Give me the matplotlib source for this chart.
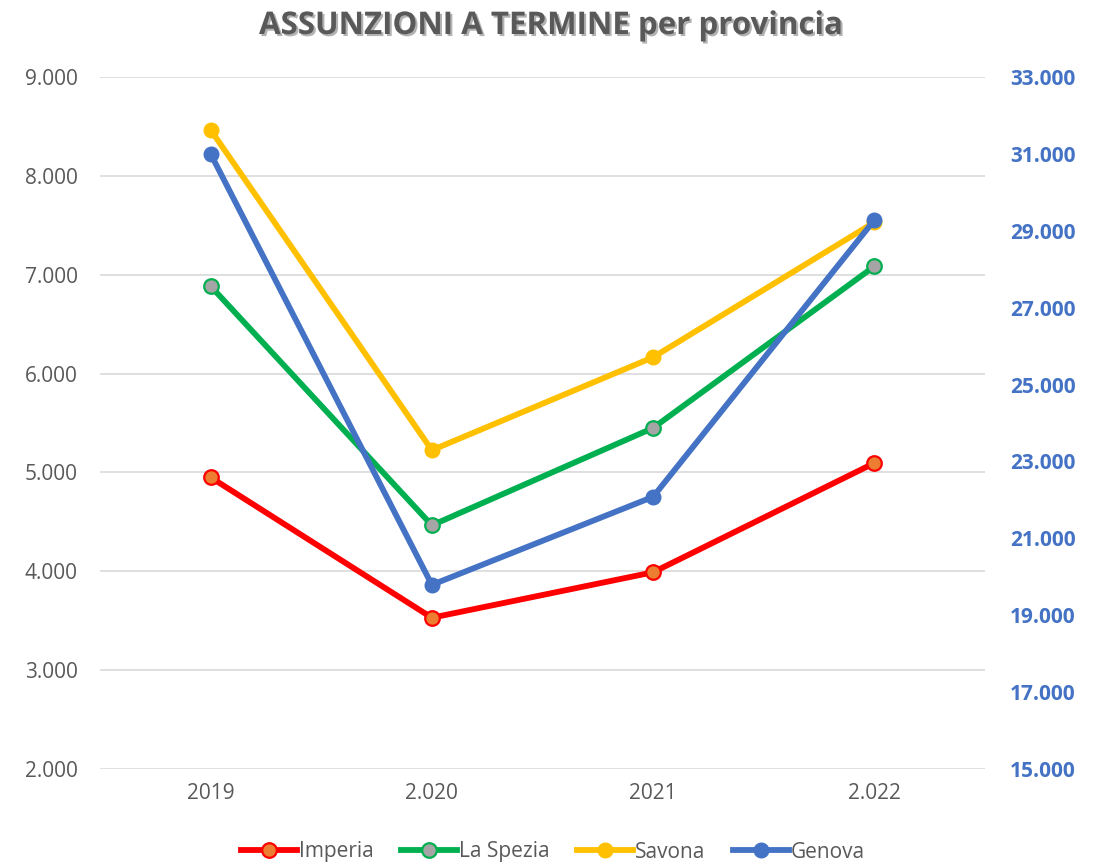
import matplotlib
matplotlib.use("Agg")
import matplotlib.pyplot as plt
import matplotlib.patheffects as pe
from matplotlib.ticker import FuncFormatter
from matplotlib.lines import Line2D

categories = ["2019", "2.020", "2021", "2.022"]
imperia = [4950, 3530, 3990, 5095]
la_spezia = [6885, 4465, 5450, 7085]
savona = [8465, 5225, 6165, 7530]
genova = [31000, 19790, 22080, 29280]

left_ticks = [2000, 3000, 4000, 5000, 6000, 7000, 8000, 9000]
right_ticks = [15000, 17000, 19000, 21000, 23000, 25000, 27000, 29000, 31000, 33000]

FONT = ["Open Sans", "DejaVu Sans"]
plt.rcParams["font.family"] = FONT

def fmt(v, pos=None):
    return f"{int(v):,}".replace(",", ".")

fig = plt.figure(figsize=(11.01, 8.65), dpi=100)
ax = fig.add_axes([100/1101, 1 - 769/865, 885/1101, 692/865])
ax2 = ax.twinx()

x = list(range(len(categories)))
lw = 4.2
ms = 10.5
ax.plot(x, imperia, color="#FF0000", lw=lw, marker="o", ms=ms, mfc="#ED7D31", mec="#FF0000", mew=1.6, zorder=3, solid_capstyle="round")
ax.plot(x, la_spezia, color="#00B050", lw=lw, marker="o", ms=ms, mfc="#A5A5A5", mec="#00B050", mew=1.6, zorder=3, solid_capstyle="round")
ax.plot(x, savona, color="#FFC000", lw=lw, marker="o", ms=ms, mfc="#FFC000", mec="#FFC000", zorder=3, solid_capstyle="round")
ax2.plot(x, genova, color="#4472C4", lw=lw, marker="o", ms=ms, mfc="#4472C4", mec="#4472C4", zorder=4, solid_capstyle="round")

ax.set_xlim(-0.5, 3.5)
ax.set_ylim(2000, 9000)
ax2.set_ylim(15000, 33000)
ax.set_yticks(left_ticks)
ax2.set_yticks(right_ticks)
ax.yaxis.set_major_formatter(FuncFormatter(fmt))
ax2.yaxis.set_major_formatter(FuncFormatter(fmt))
ax.set_xticks(x)
ax.set_xticklabels(categories)

ax.grid(axis="y", color="#D9D9D9", lw=1.2, zorder=0)
ax.set_axisbelow(True)
for a in (ax, ax2):
    for s in a.spines.values():
        s.set_visible(False)
    a.tick_params(length=0)

ax.tick_params(axis="y", labelsize=15, labelcolor="#595959", pad=16)
ax.tick_params(axis="x", labelsize=15, labelcolor="#595959", pad=10)
ax2.tick_params(axis="y", labelsize=15, labelcolor="#4472C4", pad=18)
for lbl in ax2.get_yticklabels():
    lbl.set_fontweight("bold")

fig.text(0.5, 1 - 26/865, "ASSUNZIONI A TERMINE per provincia", ha="center", va="center",
         fontsize=22.5, fontweight="bold", color="#595959",
         path_effects=[pe.withSimplePatchShadow(offset=(1.5, -1.5), shadow_rgbFace="#000000", alpha=0.3)])

handles = [
    Line2D([], [], color="#FF0000", lw=lw, marker="o", ms=ms, mfc="#ED7D31", mec="#FF0000", mew=1.6),
    Line2D([], [], color="#00B050", lw=lw, marker="o", ms=ms, mfc="#A5A5A5", mec="#00B050", mew=1.6),
    Line2D([], [], color="#FFC000", lw=lw, marker="o", ms=ms, mfc="#FFC000", mec="#FFC000"),
    Line2D([], [], color="#4472C4", lw=lw, marker="o", ms=ms, mfc="#4472C4", mec="#4472C4"),
]
leg = fig.legend(handles, ["Imperia", "La Spezia", "Savona", "Genova"], loc="center",
                 bbox_to_anchor=(553/1101, 1 - 852/865), ncol=4, frameon=False,
                 fontsize=15, handlelength=2.7, handletextpad=0.1, columnspacing=1.3,
                 labelcolor="#595959")

fig.savefig("out.png", dpi=100, facecolor="white")
